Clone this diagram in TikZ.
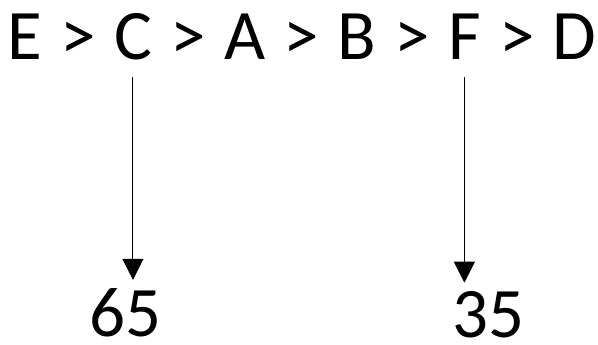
\documentclass[tikz,border=0pt]{standalone}
\usepackage{fontspec}
\setmainfont{Carlito}
\usetikzlibrary{arrows.meta,positioning}

\begin{document}
\begin{tikzpicture}[
    font=\fontsize{71pt}{80pt}\selectfont,
    node distance=18pt,
    token/.style={inner sep=0pt, text height=0.7em, text depth=0pt},
    value/.style={inner sep=0pt, anchor=base},
    line/.style={-{Triangle[width=21pt,length=21pt]}, line width=1pt, shorten <=17pt, shorten >=9pt}
]
    \useasboundingbox (0,0) rectangle (598pt,345pt);

    \node[token, anchor=base west] (E) at (7pt,285pt) {E};
    \node[token, right=of E] (gt1) {>};
    \node[token, right=of gt1] (C) {C};
    \node[token, right=of C] (gt2) {>};
    \node[token, right=of gt2] (A) {A};
    \node[token, right=of A] (gt3) {>};
    \node[token, right=of gt3] (B) {B};
    \node[token, right=of B] (gt4) {>};
    \node[token, right=of gt4] (F) {F};
    \node[token, right=of F] (gt5) {>};
    \node[token, right=of gt5] (D) {D};

    \node[value] (n65) at (125pt,8pt) {65};
    \node[value] (n35) at (488pt,7pt) {35};

    \draw[line] (C.south) -- (C.south |- n65.north);
    \draw[line] (F.south) -- (F.south |- n35.north);
\end{tikzpicture}
\end{document}
